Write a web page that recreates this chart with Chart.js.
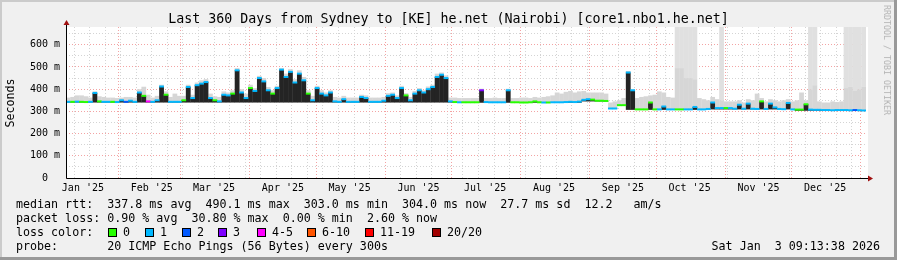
<!DOCTYPE html>
<html>
<head>
<meta charset="utf-8">
<script src="https://cdn.jsdelivr.net/npm/chart.js@4.4.1/dist/chart.umd.min.js"></script>
<style>
  html, body { margin: 0; padding: 0; background: #f0f0f0; }
  #wrap { position: relative; width: 897px; height: 260px; overflow: hidden; background: #f0f0f0; }
  #wrap canvas { position: absolute; left: 0; top: 0; }
  .t { position: absolute; font-family: 'DejaVu Sans Mono', monospace; white-space: pre; color: #000; }
  .lg { font-size: 11.67px; line-height: 14px; }
  .sq { position: absolute; width: 7px; height: 7px; border: 1px solid #000; top: 228px; }
  .edge { position: absolute; }
</style>
</head>
<body>
<div id="wrap">
  <canvas id="smoke" width="897" height="260"></canvas>

  <div class="t" style="left:0;width:897px;text-align:center;top:11px;font-size:13.3px;line-height:16px;">Last 360 Days from Sydney to [KE] he.net (Nairobi) [core1.nbo1.he.net]</div>
  <div class="t" style="left:10px;top:103px;font-size:11.67px;line-height:14px;transform:translate(-50%,-50%) rotate(-90deg);">Seconds</div>
  <div class="t" style="left:887px;top:60px;font-size:8.3px;line-height:10px;color:#b4b4b4;transform:translate(-50%,-50%) rotate(90deg);">RRDTOOL / TOBI OETIKER</div>

  <div class="t lg" style="left:16px;top:197px;">median rtt:  337.8 ms avg  490.1 ms max  303.0 ms min  304.0 ms now  27.7 ms sd  12.2   am/s</div>
  <div class="t lg" style="left:16px;top:211px;">packet loss: 0.90 % avg  30.80 % max  0.00 % min  2.60 % now</div>
  <div class="t lg" style="left:16px;top:225px;">loss color:</div>
  <div id="lossLegend"></div>
  <div class="t lg" style="left:16px;top:239px;">probe:       20 ICMP Echo Pings (56 Bytes) every 300s</div>
  <div class="t lg" style="right:17px;top:239px;">Sat Jan  3 09:13:38 2026</div>

  <div class="edge" style="left:0;top:0;width:897px;height:2px;background:#cbcbcb;"></div>
  <div class="edge" style="left:0;top:0;width:2px;height:260px;background:#cbcbcb;"></div>
  <div class="edge" style="left:0;top:257px;width:897px;height:3px;background:#999;"></div>
  <div class="edge" style="left:894px;top:0;width:3px;height:260px;background:#999;"></div>
</div>

<script>
// 360 days ending Sat Jan 3 2026 09:13:38, one bin = 2 days
const monthLabels = ["Jan '25", "Feb '25", "Mar '25", "Apr '25", "May '25", "Jun '25",
                     "Jul '25", "Aug '25", "Sep '25", "Oct '25", "Nov '25", "Dec '25"];
const monthStarts = ['2025-01-01', '2025-02-01', '2025-03-01', '2025-04-01', '2025-05-01', '2025-06-01',
                     '2025-07-01', '2025-08-01', '2025-09-01', '2025-10-01', '2025-11-01', '2025-12-01',
                     '2026-01-01'];
const yTicks = [0, 100, 200, 300, 400, 500, 600];

// median rtt per bin (ms)
const median = [
  343,343,344,343,342,343,383,345,343,343,
  343,342,350,343,348,343,385,370,345,343,
  350,412,375,343,343,343,350,410,360,418,
  425,432,360,350,345,375,372,380,485,385,
  360,405,392,450,435,395,380,405,488,455,
  478,430,470,440,380,350,405,380,372,385,
  345,343,355,343,343,343,365,360,343,343,
  343,348,370,375,360,405,372,350,380,395,
  385,400,410,455,465,450,345,342,341,341,
  341,341,341,395,342,341,341,341,341,395,
  341,341,340,340,341,345,341,340,340,341,
  341,341,342,343,342,344,352,355,353,348,
  348,347,313,313,328,328,475,395,309,309,
  309,340,309,309,322,309,309,309,309,309,
  309,320,309,309,311,340,315,315,315,315,
  312,330,312,335,312,311,345,311,335,318,
  311,310,338,309,308,308,332,308,307,307,
  306,306,305,306,306,306,305,306,305,304
];
// lowest ping per bin (ms), bottom of the smoke
const lowest = [
  340,340,340,340,340,340,340,340,340,340,
  340,340,340,340,340,340,340,340,340,340,
  340,340,340,340,340,340,340,340,340,340,
  340,340,340,340,340,340,340,340,340,340,
  340,340,340,340,340,340,340,340,340,340,
  340,340,340,340,340,340,340,340,340,340,
  340,340,340,340,340,340,340,340,340,340,
  340,340,340,340,340,340,340,340,340,340,
  340,340,340,340,340,340,340,339,339,339,
  339,339,339,339,339,339,339,339,339,339,
  339,339,339,339,339,339,339,339,339,339,
  339,339,339,339,339,339,345,345,345,345,
  345,345,311,311,325,325,307,307,307,307,
  307,307,307,307,307,307,307,307,307,307,
  307,307,307,307,309,309,309,309,309,309,
  309,309,309,309,309,309,309,309,309,309,
  309,309,309,309,303,303,303,303,303,303,
  303,303,303,303,303,303,303,303,303,303
];
// top of the main smoke band (ms)
const smokeTop = [
  362,365,372,372,368,362,390,368,365,362,
  362,360,362,365,365,362,400,411,375,362,
  370,420,390,365,380,370,370,420,375,430,
  440,445,380,368,365,390,385,395,495,400,
  380,420,405,460,450,410,395,415,495,470,
  490,445,485,455,395,370,415,395,385,395,
  365,362,370,362,362,362,375,372,362,362,
  362,365,382,385,372,415,382,365,392,405,
  395,412,420,470,475,462,362,362,360,360,
  360,360,360,402,360,360,362,360,360,402,
  360,360,362,362,360,365,362,365,368,372,
  385,380,388,392,385,390,392,385,385,385,
  385,380,340,345,350,360,482,400,360,365,
  368,372,375,390,385,365,362,495,495,450,
  450,445,360,355,350,365,355,350,345,345,
  345,350,340,355,350,380,360,345,355,350,
  345,350,355,345,350,385,350,400,418,345,
  340,340,345,342,345,405,410,395,400,410
];
// outer faint smoke (ms), only where the spread reaches the top
const outerTop = [
  null,null,null,null,null,null,null,null,null,null,
  null,null,null,null,null,null,null,null,null,null,
  null,null,null,null,null,null,null,null,null,null,
  null,null,null,null,null,null,null,null,null,null,
  null,null,null,null,null,null,null,null,null,null,
  null,null,null,null,null,null,null,null,null,null,
  null,null,null,null,null,null,null,null,null,null,
  null,null,null,null,null,null,null,null,null,null,
  null,null,null,null,null,null,null,null,null,null,
  null,null,null,null,null,null,null,null,null,null,
  null,null,null,null,null,null,null,null,null,null,
  null,null,null,null,null,null,null,null,null,null,
  null,null,null,null,null,null,null,null,null,null,
  null,null,null,null,null,null,null,680,680,680,
  680,680,null,null,null,null,null,680,null,null,
  null,null,null,null,null,null,null,null,null,null,
  null,null,null,null,null,null,null,680,680,null,
  null,null,null,null,null,680,680,680,680,680
];
// loss colour class per bin (0 = 0, 1 = 1, 2 = 2, 3 = 3, 4 = 4-5 ...)
const lossClass = [
  1,0,1,0,0,1,1,0,1,1,
  0,1,1,2,1,1,1,0,4,1,
  1,1,0,1,1,1,0,1,1,1,
  1,1,1,0,1,1,1,0,1,1,
  1,0,1,1,1,1,0,1,1,1,
  1,1,1,1,0,1,1,1,1,1,
  1,1,1,1,1,1,1,1,1,1,
  1,1,1,1,1,1,0,1,1,1,
  1,1,1,1,1,1,1,0,1,0,
  0,0,0,3,1,1,1,1,1,1,
  0,0,0,0,0,0,0,1,0,1,
  1,1,1,1,1,1,1,1,0,0,
  0,0,1,1,0,0,1,1,0,0,
  0,0,0,1,1,1,1,0,0,1,
  1,1,1,1,1,1,1,1,0,1,
  1,1,1,1,1,1,0,1,1,1,
  1,1,1,1,0,0,0,1,1,1,
  1,1,1,1,1,1,1,2,1,1
];
const lossNames = ['0', '1', '2', '3', '4-5', '6-10', '11-19', '20/20'];
const lossColors = ['#26ff00', '#00b8ff', '#0059ff', '#7e00ff', '#ff00ff', '#ff5500', '#ff0000', '#a10000'];

// legend swatches
const legendX = [108, 145, 182, 218, 257, 307, 365, 432];
const lossLegend = document.getElementById('lossLegend');
lossNames.forEach((name, i) => {
  const sq = document.createElement('div');
  sq.className = 'sq';
  sq.style.left = legendX[i] + 'px';
  sq.style.background = lossColors[i];
  lossLegend.appendChild(sq);
  const lab = document.createElement('div');
  lab.className = 't lg';
  lab.style.left = (legendX[i] + 15) + 'px';
  lab.style.top = '225px';
  lab.textContent = name;
  lossLegend.appendChild(lab);
});

// time axis, in days since the start of the graph
const endMs = Date.UTC(2026, 0, 3, 9, 13, 38);
const startMs = endMs - 360 * 86400000;
const dayOf = s => (Date.parse(s + 'T00:00:00Z') - startMs) / 86400000;

// each tick: value, grid line kind ('major' red, 'minor' grey, null none), label
const xTicks = [];
const findTick = d => xTicks.find(t => Math.abs(t.value - d) < 0.01);
monthStarts.forEach((s, i) => {
  const d = dayOf(s);
  if (d > 0 && d < 360) xTicks.push({ value: d, kind: 'major', label: '' });
  if (i < monthLabels.length) xTicks.push({ value: d + 15, kind: null, label: monthLabels[i] });
});
for (let w = 0; dayOf('2025-01-12') + w * 7 < 360; w++) {
  const d = dayOf('2025-01-12') + w * 7;
  const hit = findTick(d);
  if (!hit) xTicks.push({ value: d, kind: 'minor', label: '' });
  else if (!hit.kind) hit.kind = 'minor';
}
xTicks.sort((a, b) => a.value - b.value);

const binX = median.map((_, i) => i * 2 + 1);
const floating = (lo, hi) => binX.map((x, i) => ({ x, y: hi[i] == null ? null : [lo[i], hi[i]] }));
const binPx = 800 / median.length;
const lineHalf = 4.5; // half of the 2px median line, in ms

const plotBackground = {
  id: 'plotBackground',
  beforeDraw(chart) {
    const { ctx, chartArea: a } = chart;
    ctx.save();
    ctx.fillStyle = '#ffffff';
    ctx.fillRect(a.left, a.top, a.right - a.left + 2, a.bottom - a.top);
    ctx.restore();
  }
};

const axisArrows = {
  id: 'axisArrows',
  afterDraw(chart) {
    const { ctx, chartArea: a } = chart;
    const x0 = a.left + 0.5, y0 = a.bottom + 0.5;
    ctx.save();
    ctx.strokeStyle = '#000';
    ctx.lineWidth = 1;
    ctx.beginPath();
    ctx.moveTo(x0, y0); ctx.lineTo(x0, a.top - 4);
    ctx.moveTo(x0, y0); ctx.lineTo(a.right + 3, y0);
    ctx.stroke();
    ctx.fillStyle = '#a01010';
    ctx.beginPath();
    ctx.moveTo(x0 - 3, a.top - 2); ctx.lineTo(x0 + 3, a.top - 2); ctx.lineTo(x0, a.top - 7);
    ctx.closePath(); ctx.fill();
    ctx.beginPath();
    ctx.moveTo(a.right + 2, y0 - 3); ctx.lineTo(a.right + 2, y0 + 3); ctx.lineTo(a.right + 7, y0);
    ctx.closePath(); ctx.fill();
    ctx.restore();
  }
};

const tickFont = { family: "'DejaVu Sans Mono', monospace", size: 10 };
const barCommon = { grouped: false, barThickness: binPx + 0.3, borderWidth: 0, inflateAmount: 0 };

new Chart(document.getElementById('smoke'), {
  type: 'bar',
  data: {
    datasets: [
      Object.assign({
        label: 'median rtt',
        data: binX.map((x, i) => ({ x, y: [median[i] - lineHalf, median[i] + lineHalf] })),
        backgroundColor: lossClass.map(k => lossColors[k]),
        order: 0
      }, barCommon),
      Object.assign({ label: 'dense smoke', data: floating(lowest, median), backgroundColor: '#242424', order: 1 }, barCommon),
      Object.assign({ label: 'smoke', data: floating(lowest, smokeTop), backgroundColor: '#d6d6d6', order: 2 }, barCommon),
      Object.assign({ label: 'outer smoke', data: floating(smokeTop, outerTop), backgroundColor: '#e0e0e0', order: 3 }, barCommon)
    ]
  },
  options: {
    responsive: false,
    animation: false,
    devicePixelRatio: 1,
    layout: { padding: { left: 0, top: 27, right: 31, bottom: 62 } },
    plugins: { legend: { display: false }, tooltip: { enabled: false } },
    scales: {
      x: {
        type: 'linear',
        min: 0,
        max: 360,
        offset: false,
        afterBuildTicks: scale => { scale.ticks = xTicks.map(t => ({ value: t.value })); },
        afterFit: scale => { scale.height = 20; },
        grid: {
          offset: false,
          drawTicks: false,
          lineWidth: 1,
          color: c => {
            const t = c.tick ? findTick(c.tick.value) : null;
            if (t && t.kind === 'major') return '#f3a3a3';
            if (t && t.kind === 'minor') return '#d4d4d4';
            return 'rgba(0,0,0,0)';
          }
        },
        border: { display: false, dash: [1, 2] },
        ticks: {
          autoSkip: false,
          maxRotation: 0,
          padding: 4,
          color: '#000',
          font: tickFont,
          callback: v => { const t = findTick(v); return t ? t.label : ''; }
        }
      },
      y: {
        min: 0,
        max: 680,
        afterFit: scale => { scale.width = 66; },
        grid: {
          drawTicks: false,
          lineWidth: 1,
          color: c => (c.tick && c.tick.value % 100 === 0) ? '#f3a3a3' : '#d4d4d4'
        },
        border: { display: false, dash: [1, 2] },
        ticks: {
          stepSize: 50,
          includeBounds: false,
          autoSkip: false,
          padding: 6,
          color: '#000',
          font: tickFont,
          callback: v => yTicks.includes(v) ? (v === 0 ? '0  ' : v + ' m') : ''
        }
      }
    }
  },
  plugins: [plotBackground, axisArrows]
});
</script>
</body>
</html>
